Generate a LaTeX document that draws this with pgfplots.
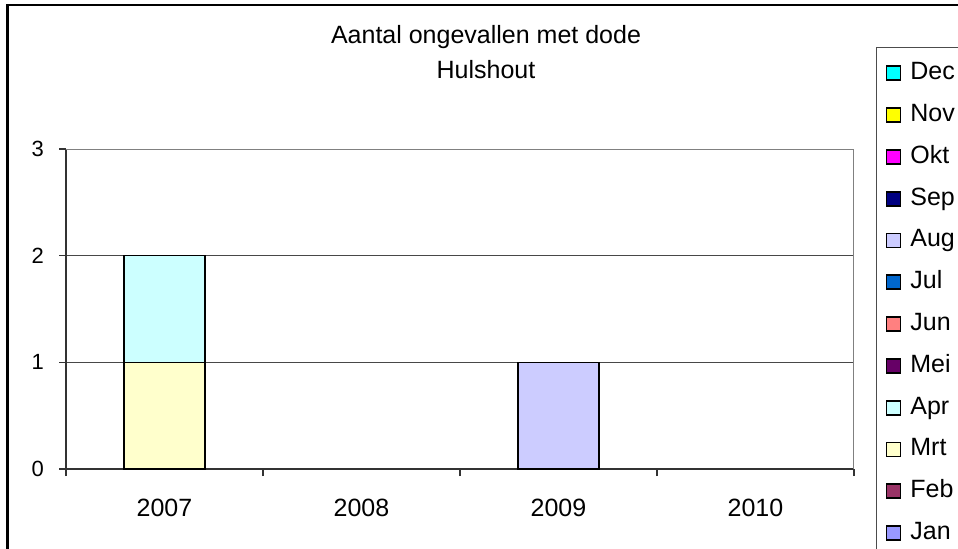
\documentclass[border=0pt]{standalone}
\usepackage{fontspec}
\setmainfont{Liberation Sans}
\usepackage{pgfplots}
\pgfplotsset{compat=1.18}

% month colours (Excel default palette)
\definecolor{cJan}{HTML}{9999FF}
\definecolor{cFeb}{HTML}{993366}
\definecolor{cMrt}{HTML}{FFFFCC}
\definecolor{cApr}{HTML}{CCFFFF}
\definecolor{cMei}{HTML}{660066}
\definecolor{cJun}{HTML}{FF8080}
\definecolor{cJul}{HTML}{0066CC}
\definecolor{cAug}{HTML}{CCCCFF}
\definecolor{cSep}{HTML}{000080}
\definecolor{cOkt}{HTML}{FF00FF}
\definecolor{cNov}{HTML}{FFFF00}
\definecolor{cDec}{HTML}{00FFFF}

\begin{document}
\begin{tikzpicture}
\useasboundingbox (0,0) rectangle (479pt,274pt);
\clip (0,0) rectangle (479pt,274pt);
\fill[white] (0,0) rectangle (479pt,274pt);
% outer chart frame
\draw[black, line width=1.3pt] (3.75pt,-20pt) -- (3.75pt,271.5pt) -- (520pt,271.5pt);

\begin{axis}[
    at={(33pt,39.5pt)}, anchor=south west,
    scale only axis, width=394pt, height=160pt,
    ybar stacked, bar width=40.5pt,
    xmin=-0.5, xmax=3.5, ymin=0, ymax=3,
    xtick={-0.5,0.5,1.5,2.5,3.5},
    xticklabels={2007,2008,2009,2010},
    x tick label as interval,
    ytick={0,1,2,3},
    ymajorgrids,
    grid style={color=black!72, line width=0.5pt},
    tick align=outside, major tick length=3.5pt,
    axis x line*=bottom, axis y line*=left,
    axis line style={black!80, line width=0.8pt},
    tick style={black!80, line width=0.6pt},
    /pgf/number format/assume math mode=true,
    xticklabel style={font=\fontsize{12.5}{15}\selectfont, yshift=-8pt},
    yticklabel style={font=\fontsize{11}{13}\selectfont, xshift=-4pt},
    every axis plot/.append style={draw=black, line width=0.8pt},
    legend image code/.code={\draw[#1,draw=black,line width=0.9pt] (0pt,-0.3pt) rectangle (7pt,6.7pt);},
    legend style={
        at={(1.02792,1.31875)}, anchor=north west,
        draw=black!70, line width=0.6pt, fill=white,
        font=\fontsize{12.5}{15}\selectfont,
        inner xsep=4.5pt, inner ysep=5.5pt,
        nodes={inner sep=1.5pt, text height=9pt, text depth=2.5pt},
        row sep=6.4pt, column sep=3pt,
        cells={anchor=base west},
        /tikz/every even column/.append style={text width=40pt},
    },
]
% values per month, index 0 = 2007, index 1 = 2009
\addplot[fill=cMrt, forget plot] coordinates {(0,1) (2,0)};
\addplot[fill=cApr, forget plot] coordinates {(0,1) (2,0)};
\addplot[fill=cAug, forget plot] coordinates {(0,0) (2,1)};

\addlegendimage{fill=cDec}\addlegendentry{Dec}
\addlegendimage{fill=cNov}\addlegendentry{Nov}
\addlegendimage{fill=cOkt}\addlegendentry{Okt}
\addlegendimage{fill=cSep}\addlegendentry{Sep}
\addlegendimage{fill=cAug}\addlegendentry{Aug}
\addlegendimage{fill=cJul}\addlegendentry{Jul}
\addlegendimage{fill=cJun}\addlegendentry{Jun}
\addlegendimage{fill=cMei}\addlegendentry{Mei}
\addlegendimage{fill=cApr}\addlegendentry{Apr}
\addlegendimage{fill=cMrt}\addlegendentry{Mrt}
\addlegendimage{fill=cFeb}\addlegendentry{Feb}
\addlegendimage{fill=cJan}\addlegendentry{Jan}

% plot area border, top and right
\draw[black!50, line width=0.8pt] (rel axis cs:0,1) -- (rel axis cs:1,1) -- (rel axis cs:1,0);
\end{axis}

\node[font=\fontsize{12.5}{15}\selectfont, align=center] at (243pt,248pt)
    {Aantal ongevallen met dode\\[2.5pt]Hulshout};
\end{tikzpicture}
\end{document}
